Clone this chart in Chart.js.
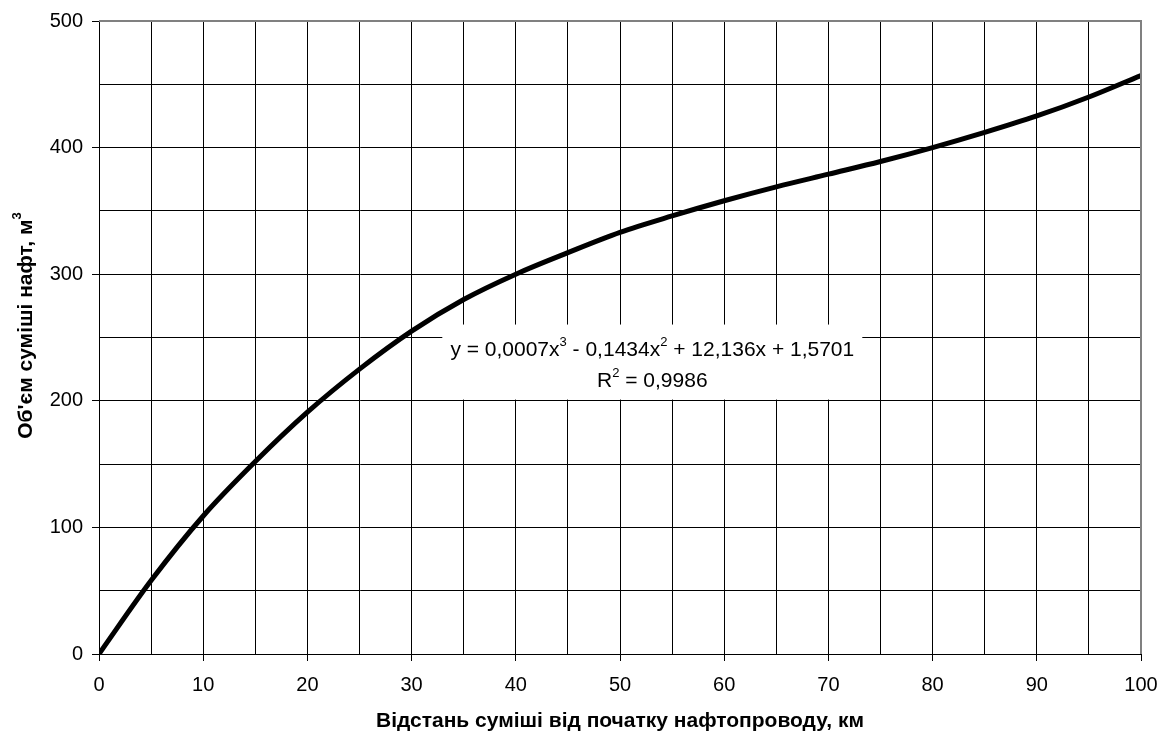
<!DOCTYPE html>
<html>
<head>
<meta charset="utf-8">
<script src="https://cdn.jsdelivr.net/npm/chart.js@4/dist/chart.umd.min.js"></script>
<style>
  html, body { margin: 0; padding: 0; background: #fff; }
  #wrap { width: 1172px; height: 738px; position: relative; }
</style>
</head>
<body>
<div id="wrap"><canvas id="chart" width="1172" height="738"></canvas></div>
<script>
// distance from the start of the pipeline, km
const distKm = [0, 5, 10, 15, 20, 25, 30, 35, 40, 45, 50, 55, 60, 65, 70, 75, 80, 85, 90, 95, 100];
// volume of the oil mixture, m3
const volume = [0, 58, 109, 152, 191, 225, 255, 280, 300, 317, 333, 346, 358, 369, 379, 389, 400, 412, 425, 440, 457];

const xTitle = 'Відстань суміші від початку нафтопроводу, км';
const yTitle = 'Об\'єм суміші нафт, м';
const eqParts = [['y = 0,0007x', '3'], [' - 0,1434x', '2'], [' + 12,136x + 1,5701', '']];
const r2Parts = [['R', '2'], [' = 0,9986', '']];
const eqAnchor = {x: 53.1, y: 231};

const FONT = '"Liberation Sans", Arial, sans-serif';

function drawParts(ctx, parts, cx, baseline, size) {
  const big = size + 'px ' + FONT, small = Math.round(size * 0.62) + 'px ' + FONT;
  let w = 0;
  parts.forEach(([t, s]) => {
    ctx.font = big; w += ctx.measureText(t).width;
    if (s) { ctx.font = small; w += ctx.measureText(s).width; }
  });
  let x = cx - w / 2;
  ctx.textAlign = 'left';
  ctx.textBaseline = 'alphabetic';
  parts.forEach(([t, s]) => {
    ctx.font = big; ctx.fillText(t, x, baseline); x += ctx.measureText(t).width;
    if (s) { ctx.font = small; ctx.fillText(s, x, baseline - size * 0.45); x += ctx.measureText(s).width; }
  });
  return w;
}

const decor = {
  id: 'decor',
  afterDraw(chart) {
    const {ctx, chartArea: a, scales: {x, y}} = chart;
    ctx.save();
    // grey frame top/right
    ctx.strokeStyle = '#808080';
    ctx.lineWidth = 2;
    ctx.beginPath();
    ctx.moveTo(a.left, a.top); ctx.lineTo(a.right, a.top); ctx.lineTo(a.right, a.bottom);
    ctx.stroke();

    // trendline equation label
    const cx = x.getPixelForValue(eqAnchor.x), cy = y.getPixelForValue(eqAnchor.y);
    ctx.fillStyle = '#fff';
    ctx.fillRect(cx - 210, cy - 37, 420, 75);
    ctx.fillStyle = '#000';
    drawParts(ctx, eqParts, cx, cy - 6, 21);
    drawParts(ctx, r2Parts, cx, cy + 25, 21);

    // y axis title with superscript
    ctx.translate(26, (a.top + a.bottom) / 2 - 12);
    ctx.rotate(-Math.PI / 2);
    ctx.font = 'bold 21px ' + FONT;
    const w = ctx.measureText(yTitle).width;
    ctx.font = 'bold 13px ' + FONT;
    const ws = ctx.measureText('3').width;
    const x0 = -(w + ws) / 2;
    ctx.font = 'bold 21px ' + FONT;
    ctx.textBaseline = 'middle';
    ctx.textAlign = 'left';
    ctx.fillText(yTitle, x0, 0);
    ctx.font = 'bold 13px ' + FONT;
    ctx.fillText('3', x0 + w, -9);
    ctx.restore();
  }
};

const tickFont = {family: FONT, size: 20};

new Chart(document.getElementById('chart'), {
  type: 'line',
  data: {
    datasets: [{
      data: distKm.map((d, i) => ({x: d, y: volume[i]})),
      borderColor: '#000',
      borderWidth: 5,
      pointRadius: 0,
      cubicInterpolationMode: 'monotone',
      fill: false
    }]
  },
  options: {
    responsive: false,
    animation: false,
    layout: {padding: {top: 18, right: 31, left: 0, bottom: 0}},
    plugins: {legend: {display: false}, tooltip: {enabled: false}},
    scales: {
      x: {
        type: 'linear', min: 0, max: 100,
        ticks: {stepSize: 5, color: '#000', font: tickFont, padding: 12, maxRotation: 0, autoSkip: false,
          callback: v => v % 10 === 0 ? v : ''},
        grid: {color: '#000', lineWidth: 1, tickLength: 7,
          tickColor: c => c.tick && c.tick.value % 10 === 0 ? '#000' : 'rgba(0,0,0,0)'},
        border: {color: '#000', width: 1},
        title: {display: true, text: xTitle, color: '#000', font: {family: FONT, size: 21, weight: 'bold'}, padding: {top: 10, bottom: 4}},
        afterFit: s => { s.height = 84; }
      },
      y: {
        type: 'linear', min: 0, max: 500,
        ticks: {stepSize: 50, color: '#000', font: tickFont, padding: 9, autoSkip: false,
          callback: v => v % 100 === 0 ? v : ''},
        grid: {color: '#000', lineWidth: 1, tickLength: 7,
          tickColor: c => c.tick && c.tick.value % 100 === 0 ? '#000' : 'rgba(0,0,0,0)'},
        border: {color: '#000', width: 1},
        afterFit: s => { s.width = 99; }
      }
    }
  },
  plugins: [decor]
});
</script>
</body>
</html>
